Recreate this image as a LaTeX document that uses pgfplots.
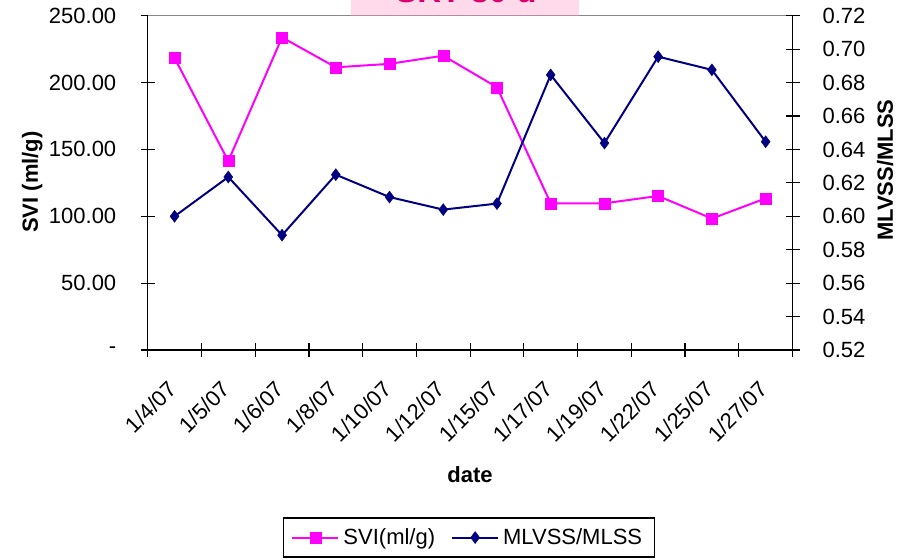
\documentclass[border=0pt]{standalone}
\usepackage{fontspec}
\setmainfont{Liberation Sans}
\usepackage{pgfplots}
\pgfplotsset{compat=1.18}

\definecolor{svi}{RGB}{255,0,255}
\definecolor{ratio}{RGB}{0,0,128}
\definecolor{titlepink}{RGB}{255,218,235}
\definecolor{titleedge}{RGB}{180,140,160}
\definecolor{titletext}{RGB}{220,0,110}
\definecolor{frame}{RGB}{136,136,136}

\newcommand{\lbl}{\fontsize{11}{13}\selectfont}
\newcommand{\blbl}{\fontsize{11}{13}\selectfont\bfseries}

\pgfplotsset{
  common/.style={
    scale only axis, width=322.4pt, height=167.15pt,
    at={(73.85pt,104.5pt)}, anchor=south west,
    xmin=-0.5, xmax=11.5,
    tick align=center, major tick length=7pt,
    tick style={black, line width=0.6pt},
    axis line style={black, line width=0.6pt},
    every tick label/.append style={font=\lbl},
    legend image code/.code={%
      \draw[#1, mark repeat=2, mark phase=2] plot coordinates {(0pt,0pt) (11.5pt,0pt) (23pt,0pt)};},
  },
  sviline/.style={color=svi, line width=1pt, mark=square*, mark size=2.75pt, mark options={fill=svi, draw=svi, line width=0.2pt}},
  ratioline/.style={color=ratio, line width=1pt, mark=diamond*, mark size=3pt, mark options={fill=ratio, draw=ratio, line width=0.2pt}},
}

\begin{document}
\begin{tikzpicture}
\useasboundingbox (0,0) rectangle (452pt,279.5pt);

% SVI on the left axis, sampling dates along the bottom
\begin{axis}[common,
  axis x line*=bottom, axis y line*=left,
  ymin=0, ymax=250, ytick={0,50,100,150,200,250},
  yticklabels={-,50.00,100.00,150.00,200.00,250.00},
  yticklabel style={xshift=-8.7pt},
  xtick={-0.5,0.5,1.5,2.5,3.5,4.5,5.5,6.5,7.5,8.5,9.5,10.5,11.5},
  xticklabels={},
  extra x ticks={0,1,2,3,4,5,6,7,8,9,10,11},
  extra x tick labels={1/4/07,1/5/07,1/6/07,1/8/07,1/10/07,1/12/07,1/15/07,1/17/07,1/19/07,1/22/07,1/25/07,1/27/07},
  extra x tick style={major tick length=0pt,
    xticklabel style={xshift=-4pt, yshift=-10pt, rotate=45, anchor=north east}},
  xlabel={date},
  every axis x label/.style={at={(axis description cs:0.5,-0.374)}, anchor=center, font=\blbl},
  ylabel={SVI (ml/g)},
  every axis y label/.style={at={(axis description cs:-0.179,0.5025)}, rotate=90, anchor=center, font=\blbl},
]
\addplot[sviline] coordinates {
  (0,218.4) (1,141.3) (2,233.8) (3,211.4) (4,214.0) (5,220.1)
  (6,196.5) (7,109.7) (8,109.7) (9,115.2) (10,98.3) (11,113.4)
};
\draw[frame, line width=0.6pt] (rel axis cs:0,1) -- (rel axis cs:1,1);
\end{axis}

% MLVSS/MLSS ratio on the right axis
\begin{axis}[common,
  axis y line*=right, axis x line=none,
  ymin=0.52, ymax=0.72,
  ytick={0.52,0.54,0.56,0.58,0.60,0.62,0.64,0.66,0.68,0.70,0.72},
  yticklabels={0.52,0.54,0.56,0.58,0.60,0.62,0.64,0.66,0.68,0.70,0.72},
  yticklabel style={xshift=8pt},
  ylabel={MLVSS/MLSS},
  every axis y label/.style={at={(axis description cs:1.1435,0.538)}, rotate=90, anchor=center, font=\blbl},
  legend columns=2,
  legend style={at={(axis description cs:0.498,-0.561)}, anchor=center,
    draw=black, line width=0.6pt, font=\lbl, inner xsep=4pt, inner ysep=3pt,
    /tikz/every even column/.append style={column sep=6pt}},
]
\addlegendimage{sviline}
\addlegendentry{SVI(ml/g)}
\addplot[ratioline] coordinates {
  (0,0.6000) (1,0.6235) (2,0.5887) (3,0.6249) (4,0.6115) (5,0.6040)
  (6,0.6076) (7,0.6846) (8,0.6438) (9,0.6955) (10,0.6876) (11,0.6446)
};
\addlegendentry{MLVSS/MLSS}
\end{axis}

% title banner
\fill[titlepink] (175.5pt,271.65pt) rectangle (289.5pt,300pt);
\draw[titleedge, line width=0.6pt] (175.5pt,271.65pt) -- (289.5pt,271.65pt);
\node[anchor=base, inner sep=0pt, text=titletext, font=\fontsize{16.5}{18}\selectfont\bfseries] at (233pt,278.15pt) {SRT 30 d};
\end{tikzpicture}
\end{document}
